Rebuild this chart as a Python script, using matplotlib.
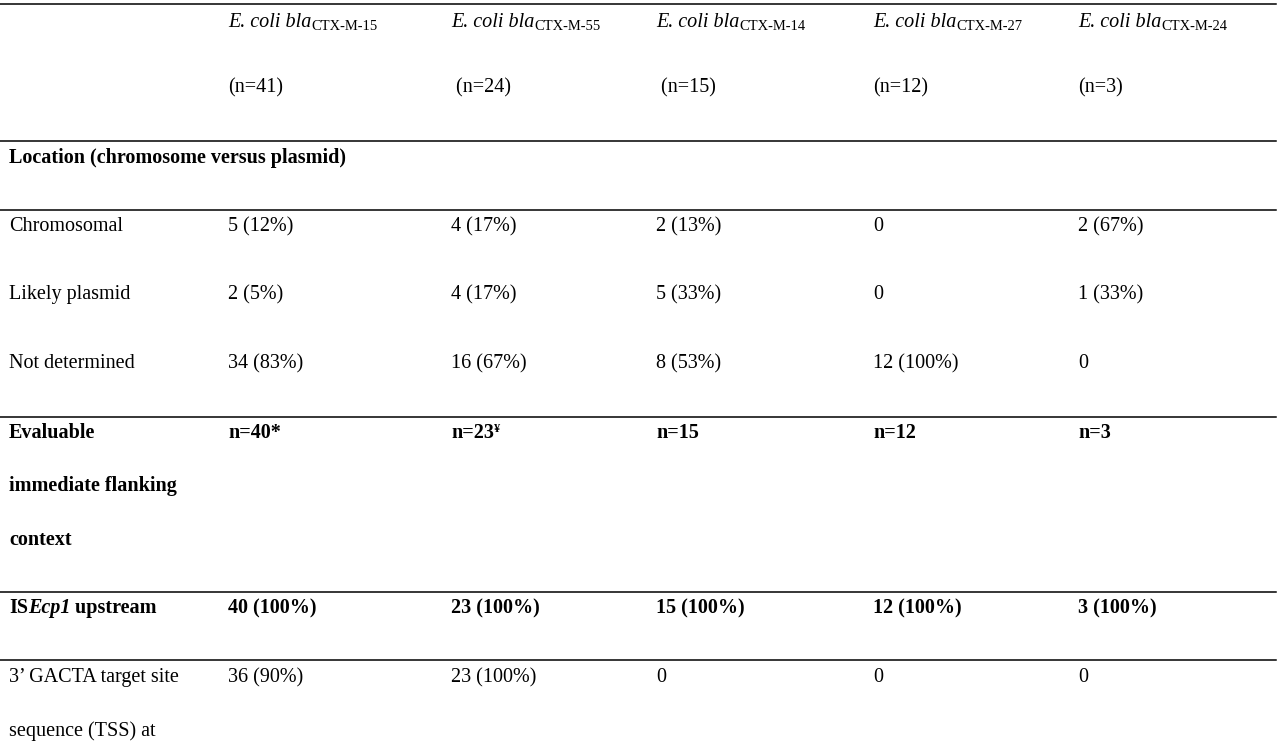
import matplotlib
matplotlib.use("Agg")
import matplotlib.pyplot as plt

genes = ["CTX-M-15", "CTX-M-55", "CTX-M-14", "CTX-M-27", "CTX-M-24"]
ns = ["(n=41)", " (n=24)", " (n=15)", "(n=12)", "(n=3)"]
chromosomal = ["5 (12%)", "4 (17%)", "2 (13%)", "0", "2 (67%)"]
likely_plasmid = ["2 (5%)", "4 (17%)", "5 (33%)", "0", "1 (33%)"]
not_determined = ["34 (83%)", "16 (67%)", "8 (53%)", "12 (100%)", "0"]
evaluable = ["n=40*", "n=23", "n=15", "n=12", "n=3"]
isecp1 = ["40 (100%)", "23 (100%)", "15 (100%)", "12 (100%)", "3 (100%)"]
gacta = ["36 (90%)", "23 (100%)", "0", "0", "0"]

W, H = 1280, 746
fig = plt.figure(figsize=(W/100, H/100), dpi=100)
ax = fig.add_axes([0, 0, 1, 1])
ax.set_xlim(0, W); ax.set_ylim(H, 0); ax.axis("off")
r = fig.canvas.get_renderer()
FONT = "Liberation Serif"
FS = 14.5

colx = [9, 228, 451, 656, 873, 1078]

def runs(x, y, parts):
    for txt, kw, dy, fs in parts:
        t = ax.text(x, y + dy, txt, fontsize=fs, family=FONT, va="baseline", ha="left", **kw)
        bb = t.get_window_extent(renderer=r)
        x += bb.width

def txt(x, y, s, bold=False):
    ax.text(x, y, s, fontsize=FS, family=FONT, va="baseline",
            fontweight="bold" if bold else "normal")

for y in [4, 141, 210, 417, 592, 660]:
    ax.plot([0, 1276], [y, y], color="black", lw=1.1)

for i, g in enumerate(genes):
    runs(colx[i+1], 27, [("E. coli bla", dict(style="italic"), 0, FS),
                          (g, {}, 3, FS*0.72)])
    txt(colx[i+1], 92, ns[i])

txt(colx[0], 163, "Location (chromosome versus plasmid)", bold=True)
for y, lab, vals in [(231, "Chromosomal", chromosomal), (299, "Likely plasmid", likely_plasmid),
                     (368, "Not determined", not_determined)]:
    txt(colx[0], y, lab)
    for i, v in enumerate(vals):
        txt(colx[i+1], y, v)

txt(colx[0], 438, "Evaluable", bold=True)
txt(colx[0], 491, "immediate flanking", bold=True)
txt(colx[0], 545, "context", bold=True)
for i, v in enumerate(evaluable):
    if i == 1:
        runs(colx[i+1], 438, [(v, dict(fontweight="bold"), 0, FS), ("¥", dict(fontweight="bold"), -6, FS*0.6)])
    else:
        txt(colx[i+1], 438, v, bold=True)

runs(colx[0], 613, [("IS", dict(fontweight="bold"), 0, FS), ("Ecp1", dict(fontweight="bold", style="italic"), 0, FS),
                    (" upstream", dict(fontweight="bold"), 0, FS)])
for i, v in enumerate(isecp1):
    txt(colx[i+1], 613, v, bold=True)

txt(colx[0], 682, "3’ GACTA target site")
txt(colx[0], 736, "sequence (TSS) at")
for i, v in enumerate(gacta):
    txt(colx[i+1], 682, v)

fig.savefig("out.png", dpi=100)
